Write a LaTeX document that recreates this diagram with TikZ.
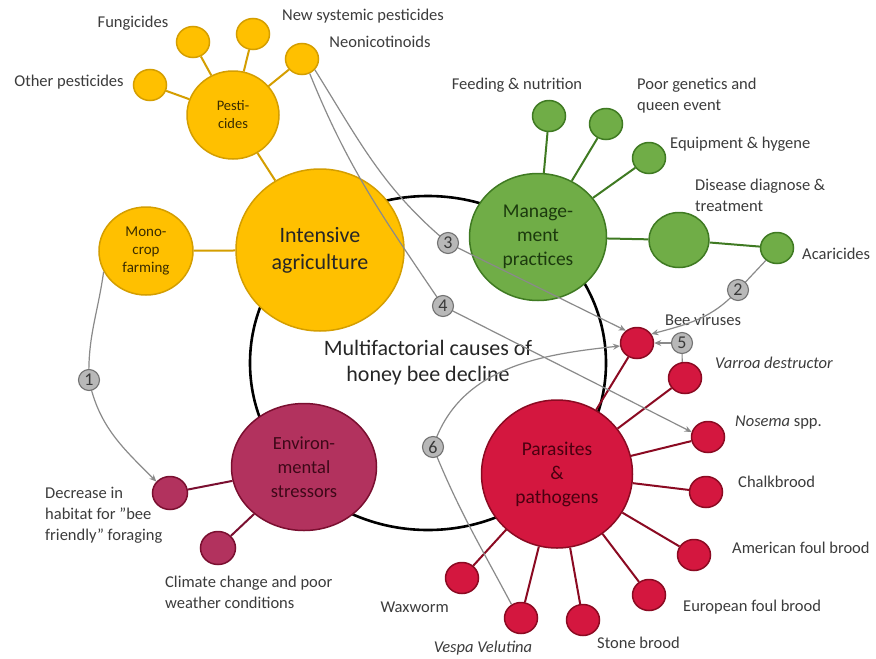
\documentclass[tikz,border=0pt]{standalone}
\usepackage{fontspec}
\setmainfont{Carlito}
\usetikzlibrary{shapes.geometric,arrows.meta}
\definecolor{yfill}{HTML}{FFC000}
\definecolor{yline}{HTML}{D49E00}
\definecolor{ytext}{HTML}{3A2C00}
\definecolor{gfill}{HTML}{70AD47}
\definecolor{gline}{HTML}{3F7A22}
\definecolor{gtext}{HTML}{1C3A0E}
\definecolor{rfill}{HTML}{D4173F}
\definecolor{rline}{HTML}{8B0A22}
\definecolor{rtext}{HTML}{4A0010}
\definecolor{efill}{HTML}{B2325E}
\definecolor{eline}{HTML}{7A0F30}
\definecolor{etext}{HTML}{3E0818}
\definecolor{lbl}{HTML}{3C3C3C}
\definecolor{conncol}{HTML}{8A8A8A}
\tikzset{
  bub/.style={ellipse,inner sep=0pt,align=center,line width=1.5pt},
  ybub/.style={bub,fill=yfill,draw=yline,text=ytext},
  gbub/.style={bub,fill=gfill,draw=gline,text=gtext},
  rbub/.style={bub,fill=rfill,draw=rline,text=rtext},
  ebub/.style={bub,fill=efill,draw=eline,text=etext},
  small/.style={minimum width=33pt,minimum height=31pt},
  yspoke/.style={draw=yline,line width=2pt},
  gspoke/.style={draw=gline,line width=2pt},
  rspoke/.style={draw=rline,line width=2pt},
  espoke/.style={draw=eline,line width=2pt},
  lab/.style={text=lbl,font=\fontsize{16.5}{21}\selectfont,align=left,inner sep=0pt},
  badge/.style={circle,inner sep=0pt,minimum size=21pt,fill=black!28,draw=black!55,line width=1.1pt,text=black!78,font=\fontsize{18}{18}\selectfont},
  conn/.style={draw=conncol,line width=1.2pt},
  carr/.style={conn,-{Stealth[length=7pt,width=6pt]}}
}
\begin{document}
\begin{tikzpicture}[x=1pt,y=-1pt]
\useasboundingbox[fill=white] (0,0) rectangle (876,659);
% central ring
\node[ellipse,draw=black,line width=2.6pt,minimum width=356pt,minimum height=334pt,inner sep=0pt] (core) at (428,363) {};
% yellow group
\node[ybub,minimum width=168pt,minimum height=162pt,font=\fontsize{22}{27}\selectfont,text=black!85] (agri) at (320,250) {Intensive\\agriculture};
\node[ybub,minimum width=92pt,minimum height=88pt,font=\fontsize{14.5}{18}\selectfont] (pest) at (233,115) {Pesti-\\cides};
\node[ybub,small] (fung) at (193,42) {};
\node[ybub,small] (newsys) at (253,34) {};
\node[ybub,small] (neo) at (302,59) {};
\node[ybub,small] (other) at (150,85) {};
\node[ybub,minimum width=94pt,minimum height=88pt,font=\fontsize{15}{18}\selectfont] (mono) at (146,251) {Mono-\\crop\\farming};
% green group
\node[gbub,minimum width=137pt,minimum height=127pt,font=\fontsize{19.5}{24}\selectfont] (mgmt) at (538,237) {Manage-\\ment\\practices};
\node[gbub,small] (feed) at (549,116) {};
\node[gbub,small] (gen) at (606,124) {};
\node[gbub,small] (equip) at (649,158) {};
\node[gbub,minimum width=60pt,minimum height=55pt] (dis) at (679,240) {};
\node[gbub,small] (acar) at (777,248) {};
% red group
\node[rbub,minimum width=151pt,minimum height=148pt,font=\fontsize{19.5}{24}\selectfont] (para) at (557,474) {Parasites\\\&\\pathogens};
\node[rbub,small] (virus) at (637,343) {};
\node[rbub,small] (varroa) at (685,378) {};
\node[rbub,small] (nosema) at (708,437) {};
\node[rbub,small] (chalk) at (706,492) {};
\node[rbub,small] (amer) at (694,555) {};
\node[rbub,small] (euro) at (649,595) {};
\node[rbub,small] (stone) at (583,620) {};
\node[rbub,small] (vespa) at (521,618) {};
\node[rbub,small] (wax) at (462,578) {};
% environmental group
\node[ebub,minimum width=145pt,minimum height=127pt,font=\fontsize{18.5}{24}\selectfont] (env) at (304,467) {Environ-\\mental\\stressors};
\node[ebub,minimum width=35pt,minimum height=33pt] (dec) at (170,493) {};
\node[ebub,minimum width=35pt,minimum height=33pt] (clim) at (218,548) {};
% spokes
\path[yspoke] (agri) -- (pest) (pest) -- (fung) (pest) -- (newsys) (pest) -- (neo) (pest) -- (other) (mono) -- (agri);
\path[gspoke] (mgmt) -- (feed) (mgmt) -- (gen) (mgmt) -- (equip) (mgmt) -- (dis) (dis) -- (acar);
\path[rspoke] (para) -- (virus) (para) -- (varroa) (para) -- (nosema) (para) -- (chalk) (para) -- (amer) (para) -- (euro) (para) -- (stone) (para) -- (vespa) (para) -- (wax);
\path[espoke] (env) -- (dec) (env) -- (clim);
% central text
\node[font=\fontsize{22}{26}\selectfont,text=black!85,align=center] (coretext) at (core.center) {Multifactorial causes of\\honey bee decline};
% labels
\node[lab] (lfung) at (133,23) {Fungicides};
\node[lab] (lnew) at (363,16) {New systemic pesticides};
\node[lab] (lneo) at (380,42) {Neonicotinoids};
\node[lab] (lother) at (69,82) {Other pesticides};
\node[lab] (lfeed) at (517,85) {Feeding \& nutrition};
\node[lab,anchor=west] (lgen) at (637,95.5) {Poor genetics and\\queen event};
\node[lab,anchor=west] (lequip) at (670,144) {Equipment \& hygene};
\node[lab,anchor=west] (ldis) at (695,195.5) {Disease diagnose \&\\treatment};
\node[lab,anchor=west] (lacar) at (802,254) {Acaricides};
\node[lab] (lvirus) at (703,320) {Bee viruses};
\node[lab,anchor=west] (lvarroa) at (715,363) {\itshape Varroa destructor};
\node[lab,anchor=west] (lnosema) at (735,423) {\textit{Nosema} spp.};
\node[lab,anchor=west] (lchalk) at (738,482) {Chalkbrood};
\node[lab,anchor=west] (lamer) at (732,548) {American foul brood};
\node[lab,anchor=west] (leuro) at (683,607) {European foul brood};
\node[lab,anchor=west] (lstone) at (597,643) {Stone brood};
\node[lab] (lvespa) at (483,648) {\itshape Vespa Velutina};
\node[lab,anchor=east] (lwax) at (449,607) {Waxworm};
\node[lab,anchor=west] (ldec) at (45,515.5) {Decrease in\\habitat for \textquotedblright bee\\friendly\textquotedblright\ foraging};
\node[lab,anchor=west] (lclim) at (165,592.5) {Climate change and poor\\weather conditions};
% badge positions
\coordinate (p1) at (89,380);
\coordinate (p2) at (738,290);
\coordinate (p3) at (448,243);
\coordinate (p4) at (443,306);
\coordinate (p5) at (682,343);
\coordinate (p6) at (433,447);
% grey connectors
\path[conn] (mono.206) to[out=262,in=92] (p1);
\path[carr] (p1) to[out=282,in=135] (dec.140);
\path[conn] (acar.228) -- (p2);
\path[carr] (p2) to[out=228,in=15] (virus.32);
\path[conn] (neo.-40) to[out=-58,in=140] (p3);
\path[carr] (p3) -- (virus.132);
\path[conn] (neo.-62) to[out=-68,in=124] (p4);
\path[carr] (p4) -- (nosema.163);
\path[conn] (varroa.100) -- (p5);
\path[carr] (p5) -- (virus.0);
\path[conn] (vespa.125) to[out=118,in=292] (p6);
\path[carr] (p6) to[out=72,in=186] (virus.190);
% badges on top
\node[badge] (b1) at (p1) {1};
\node[badge] (b2) at (p2) {2};
\node[badge] (b3) at (p3) {3};
\node[badge] (b4) at (p4) {4};
\node[badge] (b5) at (p5) {5};
\node[badge] (b6) at (p6) {6};
\end{tikzpicture}
\end{document}
